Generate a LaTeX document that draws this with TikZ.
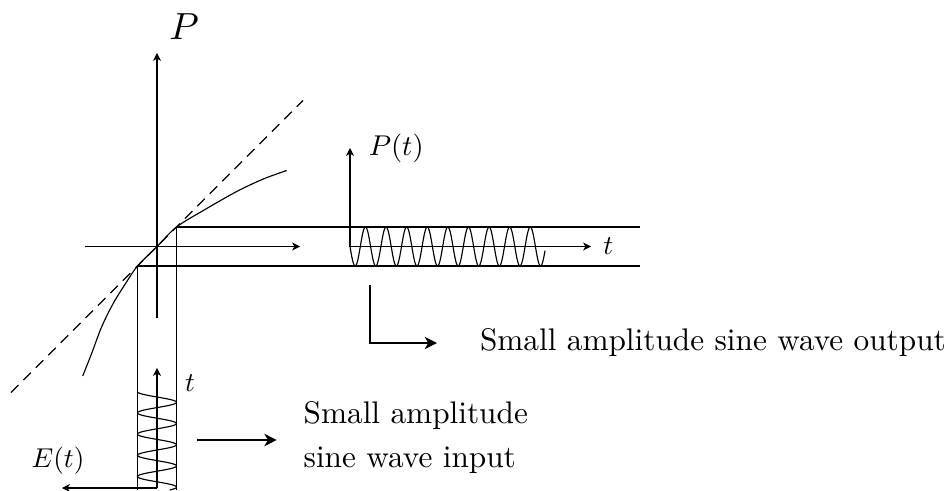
\documentclass[tikz,border=0pt]{standalone}
\usetikzlibrary{arrows.meta,positioning}

\begin{document}
\begin{tikzpicture}[
  x=0.02cm, y=-0.02cm, line width=0.65pt,
  axis/.style={-{Stealth[length=4.5pt,width=4.6pt,inset=1.3pt]}},
  pointer/.style={-{Stealth[length=7pt,width=7pt,inset=2pt]}, line width=1.1pt},
  lbl/.style={font=\fontsize{10}{12}\selectfont, scale=1.55, transform shape, inner sep=1pt},
  txt/.style={font=\fontsize{10}{12}\selectfont, scale=1.78, transform shape, inner sep=0pt}
]
\useasboundingbox (0,0) rectangle (952,490);

% operating point and the two ends of the small swing
\coordinate (O) at (157,246.5);
\coordinate (hi) at (176.5,227);
\coordinate (lo) at (137.5,266);

% P--E axes
\coordinate (Pbot) at (157,318);
\coordinate (Ptop) at (157,53);
\coordinate (Eleft) at (85,246.5);
\coordinate (Eright) at (300,246.5);
\draw[axis] (Pbot) -- (Ptop);
\draw[axis] (Eleft) -- (Eright);
\node[font=\fontsize{10}{12}\selectfont, scale=2.15, transform shape, inner sep=0pt] (Plbl) at (184,27) {$P$};

% tangent at the operating point and the P(E) curve
\coordinate (tanA) at (11,392.5);
\coordinate (tanB) at (303,100.5);
\draw[dash pattern=on 6pt off 4pt] (tanA) -- (tanB);
\draw plot[smooth] coordinates {(82.7,376) (91.7,353.3) (101.7,326.7) (113.3,303.3) (126.7,281.7)
  (lo) (O) (hi) (203.3,210.5) (236.7,191.5) (263.3,179) (286.7,170.5)};

% projection lines
\draw (hi) -- (640,227);
\draw (lo) -- (640,266);
\draw (lo) -- (137.5,490);
\draw (hi) -- (176.5,490);

% output P(t)
\coordinate (oO) at (350,246.5);
\coordinate (oPtop) at (350,148);
\coordinate (otEnd) at (591,246.5);
\draw[axis] (oO) -- (oPtop);
\draw[axis] (oO) -- (otEnd);
\node[lbl, scale=1.05, anchor=west] (PtLbl) at (365,148) {$P(t)$};
\node[lbl, right=5pt of otEnd] (otLbl) {$t$};
\draw[samples=400, domain=350:545] plot (\x, {246.5+19.5*sin(17.476*(\x-350))});

% input E(t)
\coordinate (iO) at (157,488);
\coordinate (itTop) at (157,368);
\coordinate (iEEnd) at (62,488);
\draw[axis] (iO) -- (itTop);
\draw[axis] (iO) -- (iEEnd);
\node[lbl] (itLbl) at (190,383) {$t$};
\node[lbl] (ELbl) at (58,461) {$E(t)$};
\draw[samples=300, domain=391.7:490, variable=\y] plot ({157-19.5*cos(16.981*(\y-391.7))}, \y);

% pointers and captions
\coordinate (inS) at (197,440);
\coordinate (inE) at (276.7,440);
\draw[pointer] (inS) -- (inE);
\node[txt, anchor=base west] (inTxtA) at (302.7,423.3) {Small amplitude};
\node[txt, anchor=base west] (inTxtB) at (302.7,467.7) {sine wave input};

\coordinate (outS) at (370,285);
\coordinate (outE) at (437,343);
\draw[pointer] (outS) |- (outE);
\node[txt, anchor=base west] (outTxt) at (479,350.7) {Small amplitude sine wave output};
\end{tikzpicture}
\end{document}
